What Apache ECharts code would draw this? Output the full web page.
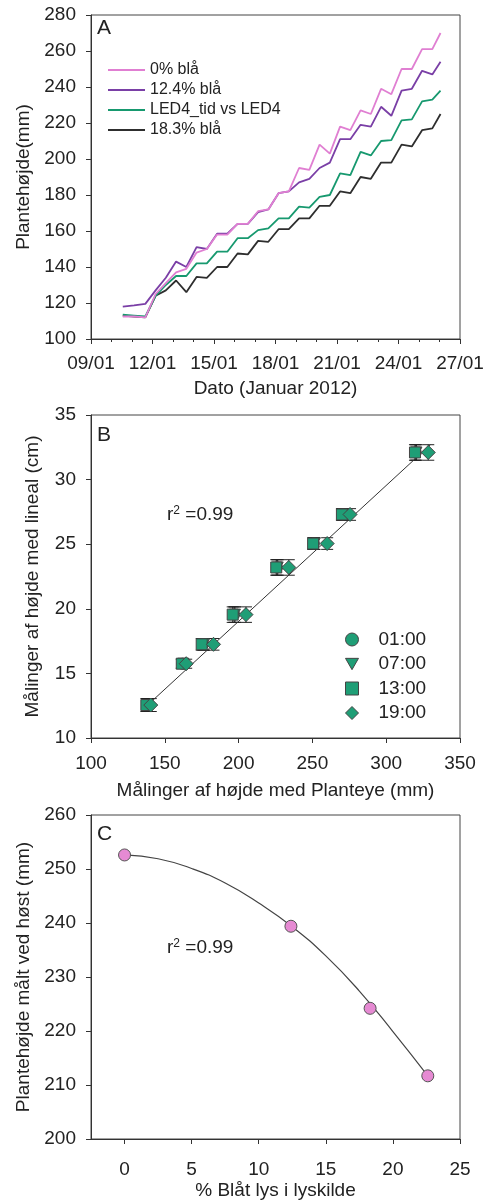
<!DOCTYPE html>
<html>
<head>
<meta charset="utf-8">
<script src="https://cdn.jsdelivr.net/npm/echarts@6/dist/echarts.min.js"></script>
<style>
  html, body { margin: 0; padding: 0; background: #fff; }
  #chart { width: 488px; height: 1203px; }
</style>
</head>
<body>
<div id="chart"></div>
<script>
// ---- Panel A: plant height over time (day of January 2012)
const daysA = [10.55, 11.1, 11.65, 12.15, 12.65, 13.15, 13.65, 14.15, 14.65, 15.15, 15.65, 16.15, 16.65, 17.15, 17.65, 18.15,
  18.65, 19.15, 19.65, 20.15, 20.65, 21.15, 21.65, 22.15, 22.65, 23.15, 23.65, 24.15, 24.65, 25.15, 25.65, 26.05];
const blue0 = [112.5, 112.5, 112, 125, 131, 137, 139, 148, 150, 158, 158, 164, 164, 171, 172, 181,
  182, 195, 194, 208, 203, 218, 216, 227, 225, 239, 236, 250, 250, 261, 261, 270];
const blue124 = [118, 118.7, 119.5, 127, 134, 143, 140, 151, 150, 158.5, 158.5, 164, 164, 170.5, 172, 181,
  182, 187, 189, 195, 198, 211, 211, 219, 218, 229, 224, 238, 239, 249, 247, 254];
const led4 = [113.5, 113, 112.5, 124, 130, 135, 135, 142, 142, 148.5, 148.5, 156, 156, 160.5, 161.5, 167,
  167, 173.5, 173, 179, 180, 192, 191, 204, 202, 210, 210.5, 221.5, 222, 232, 233, 238];
const blue183 = [113, 112.5, 112, 124, 127, 132.5, 126, 134.5, 134, 140, 140, 147.5, 147, 154.5, 154, 161,
  161, 167, 167, 174, 174, 182, 181, 190, 189, 198, 198, 208, 207, 216, 217, 225];
const namesA = ['0% blå', '12.4% blå', 'LED4_tid vs LED4', '18.3% blå'];

// ---- Panel B: Planteye (mm) vs ruler (cm)
const timesB = ['01:00', '07:00', '13:00', '19:00'];
const rulerB = [12.55, 15.75, 17.25, 19.55, 23.2, 25.05, 27.3, 32.1];
const errB = [0.5, 0.35, 0.45, 0.6, 0.6, 0.45, 0.45, 0.6];
const eye0100 = [138, 162, 176, 197, 226, 251, 270.5, 320];
const eye0700 = [138.5, 162.5, 176.5, 197.5, 226.5, 251.5, 271, 320.5];
const eye1300 = [137.5, 161.5, 175, 196, 225.5, 250.5, 270, 319.5];
const eye1900 = [140.5, 164.5, 183, 205, 234, 260, 275.5, 328.5];
const fitB = [[136, 12.3], [330, 32.7]];

// ---- Panel C: height at harvest vs % blue light
const blueC = [0, 12.4, 18.3, 22.6];
const harvestC = [252.6, 239.4, 224.2, 211.7];
const curveX = [0, 2.5, 5, 7.5, 10, 12.5, 15, 17.5, 20, 22.6];
const curveY = [252.6, 251.9, 250.1, 247.4, 243.7, 239.3, 233.9, 227.4, 219.9, 211.7];

const font = 'Liberation Sans, Arial, sans-serif';
const axisCol = '#333';
const colsA = ['#e07fd2', '#7a3fa6', '#17996f', '#2e2e2e'];
const green = '#1f9e76';
const pink = '#e68ad3';
const triDown = 'path://M0,0L10,0L5,8.7Z';
const diamond = 'path://M5,0L10,5L5,10L0,5Z';

const chart = echarts.init(document.getElementById('chart'));

const zip = (xs, ys) => xs.map((x, i) => [x, ys[i]]);
const pad = v => (v < 10 ? '0' : '') + v;

const baseAxis = {
  axisLine: { show: true, onZero: false, lineStyle: { color: axisCol, width: 1 } },
  axisTick: { show: true, length: 5, lineStyle: { color: axisCol } },
  axisLabel: { color: '#222', fontSize: 19, fontFamily: font },
  splitLine: { show: false },
  nameTextStyle: { color: '#222', fontSize: 19, fontFamily: font },
  nameLocation: 'middle'
};

const errBars = xs => ({
  type: 'custom',
  xAxisIndex: 1, yAxisIndex: 1,
  silent: true,
  z: 1,
  data: xs.map((x, i) => [x, rulerB[i], errB[i]]),
  renderItem: (params, api) => {
    const x = api.value(0), y = api.value(1), e = api.value(2);
    const t = api.coord([x, y + e]);
    const b = api.coord([x, y - e]);
    const hw = 6;
    const st = { stroke: '#222', lineWidth: 1 };
    return {
      type: 'group',
      children: [
        { type: 'line', shape: { x1: t[0], y1: t[1], x2: b[0], y2: b[1] }, style: st },
        { type: 'line', shape: { x1: t[0] - hw, y1: t[1], x2: t[0] + hw, y2: t[1] }, style: st },
        { type: 'line', shape: { x1: b[0] - hw, y1: b[1], x2: b[0] + hw, y2: b[1] }, style: st }
      ]
    };
  }
});

const r2 = {
  text: '{r|r}{s|2}{r| =0.99}', fill: '#222',
  rich: {
    r: { fontSize: 19, fontFamily: font, verticalAlign: 'bottom' },
    s: { fontSize: 12, fontFamily: font, verticalAlign: 'top' }
  }
};

const option = {
  animation: false,
  backgroundColor: '#fff',
  textStyle: { fontFamily: font },
  grid: [
    { left: 91, top: 15, width: 369, height: 324, show: true, borderColor: '#444', borderWidth: 1 },
    { left: 91, top: 415, width: 369, height: 323, show: true, borderColor: '#444', borderWidth: 1 },
    { left: 91, top: 815, width: 369, height: 324, show: true, borderColor: '#444', borderWidth: 1 }
  ],
  xAxis: [
    Object.assign({}, baseAxis, {
      gridIndex: 0, type: 'value', min: 9, max: 27, interval: 3,
      name: 'Dato (Januar 2012)', nameGap: 40,
      minorTick: { show: true, splitNumber: 3, length: 3, lineStyle: { color: axisCol } },
      axisLabel: Object.assign({}, baseAxis.axisLabel, { margin: 15, formatter: v => pad(v) + '/01' })
    }),
    Object.assign({}, baseAxis, {
      gridIndex: 1, type: 'value', min: 100, max: 350, interval: 50,
      name: 'Målinger af højde med Planteye (mm)', nameGap: 43,
      axisLabel: Object.assign({}, baseAxis.axisLabel, { margin: 16 })
    }),
    Object.assign({}, baseAxis, {
      gridIndex: 2, type: 'value', min: -2.5, max: 25,
      name: '% Blåt lys i lyskilde', nameGap: 42,
      axisTick: Object.assign({}, baseAxis.axisTick, { customValues: [0, 5, 10, 15, 20, 25] }),
      axisLabel: Object.assign({}, baseAxis.axisLabel, { margin: 21, customValues: [0, 5, 10, 15, 20, 25] })
    })
  ],
  yAxis: [
    Object.assign({}, baseAxis, {
      gridIndex: 0, type: 'value', min: 100, max: 280, interval: 20,
      name: 'Plantehøjde(mm)', nameGap: 57,
      axisLabel: Object.assign({}, baseAxis.axisLabel, { margin: 15 })
    }),
    Object.assign({}, baseAxis, {
      gridIndex: 1, type: 'value', min: 10, max: 35, interval: 5,
      name: 'Målinger af højde med lineal (cm)', nameGap: 49,
      axisLabel: Object.assign({}, baseAxis.axisLabel, { margin: 15 })
    }),
    Object.assign({}, baseAxis, {
      gridIndex: 2, type: 'value', min: 200, max: 260, interval: 10,
      name: 'Plantehøjde målt ved høst (mm)', nameGap: 57,
      axisLabel: Object.assign({}, baseAxis.axisLabel, { margin: 15 })
    })
  ],
  legend: [
    {
      data: namesA, orient: 'vertical', left: 103, top: 57,
      icon: 'rect', itemWidth: 37, itemHeight: 2, itemGap: 4,
      textStyle: { fontSize: 16, lineHeight: 14, color: '#222', fontFamily: font }
    },
    {
      data: [
        { name: timesB[0], icon: 'circle' },
        { name: timesB[1], icon: triDown },
        { name: timesB[2], icon: 'rect' },
        { name: timesB[3], icon: diamond }
      ],
      orient: 'vertical', left: 340, top: 625,
      itemWidth: 13, itemHeight: 13, itemGap: 5.5,
      itemStyle: { borderColor: '#444', borderWidth: 1 },
      textStyle: { fontSize: 19, lineHeight: 19, color: '#222', fontFamily: font, padding: [0, 0, 0, 15] }
    }
  ],
  graphic: [
    { type: 'text', left: 97, top: 18, style: { text: 'A', fontSize: 21, fontFamily: font, fill: '#222' } },
    { type: 'text', left: 97, top: 425, style: { text: 'B', fontSize: 21, fontFamily: font, fill: '#222' } },
    { type: 'text', left: 97, top: 824, style: { text: 'C', fontSize: 21, fontFamily: font, fill: '#222' } },
    { type: 'text', left: 167, top: 505, style: r2 },
    { type: 'text', left: 167, top: 938, style: r2 }
  ],
  series: [
    // panel A
    ...[blue0, blue124, led4, blue183].map((ys, i) => ({
      name: namesA[i], type: 'line', xAxisIndex: 0, yAxisIndex: 0,
      data: zip(daysA, ys), symbol: 'none', color: colsA[i],
      lineStyle: { width: 1.8, color: colsA[i] }
    })).reverse(),
    // panel B
    { type: 'line', xAxisIndex: 1, yAxisIndex: 1, data: fitB, symbol: 'none', silent: true,
      lineStyle: { color: '#333', width: 1 }, z: 1 },
    errBars(eye0100), errBars(eye0700), errBars(eye1300), errBars(eye1900),
    ...[[eye0100, 'circle', 11], [eye0700, triDown, 11], [eye1300, 'rect', 11], [eye1900, diamond, 14]].map((s, i) => ({
      name: timesB[i], type: 'scatter', xAxisIndex: 1, yAxisIndex: 1,
      data: zip(s[0], rulerB), symbol: s[1], symbolSize: s[2], z: 3,
      itemStyle: { color: green, borderColor: '#444', borderWidth: 1, opacity: 1 }
    })),
    // panel C
    { type: 'line', xAxisIndex: 2, yAxisIndex: 2, data: zip(curveX, curveY), smooth: true,
      symbol: 'none', silent: true, lineStyle: { color: '#444', width: 1.2 } },
    { type: 'scatter', xAxisIndex: 2, yAxisIndex: 2, data: zip(blueC, harvestC), symbolSize: 12,
      itemStyle: { color: pink, borderColor: '#555', borderWidth: 1, opacity: 1 }, z: 3 }
  ]
};

chart.setOption(option);
</script>
</body>
</html>
